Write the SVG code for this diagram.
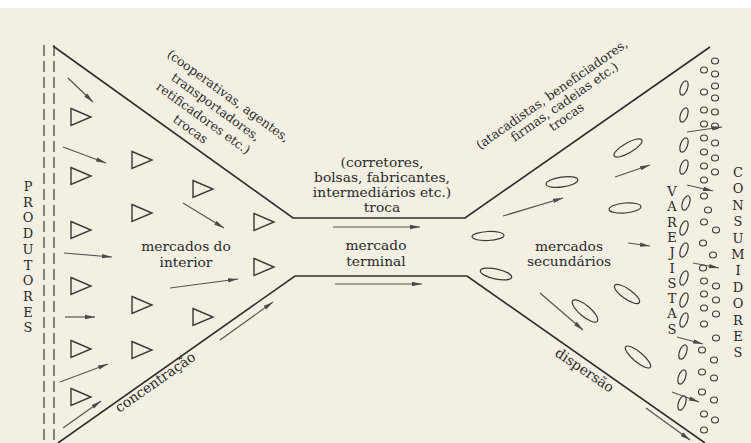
<svg xmlns="http://www.w3.org/2000/svg" width="751" height="443" viewBox="0 0 751 443">
<defs>
<marker id="ah" viewBox="0 0 10 6" refX="10" refY="3" markerWidth="10" markerHeight="6" markerUnits="userSpaceOnUse" orient="auto">
<path d="M0,0.8 L10,3 L0,5.2 Z" fill="#4a4a4a"/>
</marker>
<style>
.fl{fill:none;stroke:#2e2e2e;stroke-width:1.6}
.ds{fill:none;stroke:#3a3a3a;stroke-width:1.2;stroke-dasharray:11 5}
.tri{fill:none;stroke:#3a3a3a;stroke-width:1.4;stroke-linejoin:miter}
.arr{fill:none;stroke:#555;stroke-width:1.2;marker-end:url(#ah)}
.el{fill:none;stroke:#3a3a3a;stroke-width:1.2}
.zr{fill:none;stroke:#3a3a3a;stroke-width:1.2}
.cs{fill:none;stroke:#3a3a3a;stroke-width:1.1}
.t{font-family:"DejaVu Serif","Liberation Serif",serif;font-size:13.8px;fill:#2a2a2a;text-anchor:middle}
.r{font-family:"DejaVu Serif","Liberation Serif",serif;font-size:12.5px;fill:#2a2a2a;text-anchor:middle}
.cap{font-family:"DejaVu Serif","Liberation Serif",serif;font-size:13px;fill:#2a2a2a;text-anchor:middle}
</style>
</defs>
<rect x="0" y="0" width="751" height="443" fill="#f4efe3"/>
<rect x="0" y="0" width="751" height="8" fill="#ffffff"/>

<g id="funnel">
<path class="fl" d="M53,46 L293,218 L465,218 L710,47"/>
<path class="fl" d="M58,443 L295,276 L467,276 L705,443"/>
<line class="ds" x1="44" y1="45" x2="44" y2="443"/>
<line class="ds" x1="54" y1="45" x2="54" y2="443"/>
</g>

<g id="produtores">
<text class="cap" x="28" y="191">P</text>
<text class="cap" x="28" y="206.7">R</text>
<text class="cap" x="28" y="222.4">O</text>
<text class="cap" x="28" y="238.1">D</text>
<text class="cap" x="28" y="253.8">U</text>
<text class="cap" x="28" y="269.5">T</text>
<text class="cap" x="28" y="285.2">O</text>
<text class="cap" x="28" y="300.9">R</text>
<text class="cap" x="28" y="316.6">E</text>
<text class="cap" x="28" y="332.3">S</text>
</g>

<g id="mercados-interior">
<polygon class="tri" points="71,108.5 91,117 71,125.5"/>
<polygon class="tri" points="71,167.5 91,176 71,184.5"/>
<polygon class="tri" points="71,221.5 91,230 71,238.5"/>
<polygon class="tri" points="71,277.5 91,286 71,294.5"/>
<polygon class="tri" points="71,340.5 91,349 71,357.5"/>
<polygon class="tri" points="71,388.5 91,397 71,405.5"/>
<polygon class="tri" points="132,151.5 152,160 132,168.5"/>
<polygon class="tri" points="132,204.5 152,213 132,221.5"/>
<polygon class="tri" points="132,296.5 152,305 132,313.5"/>
<polygon class="tri" points="132,341.5 152,350 132,358.5"/>
<polygon class="tri" points="193,180.5 213,189 193,197.5"/>
<polygon class="tri" points="193,308.5 213,317 193,325.5"/>
<polygon class="tri" points="254,213.5 274,222 254,230.5"/>
<polygon class="tri" points="254,258.5 274,267 254,275.5"/>
<text class="t" x="186" y="251">mercados do</text>
<text class="t" x="186" y="267">interior</text>
</g>

<g id="intermediarios-interior">
<g transform="rotate(36)">
<text class="r" x="241" y="-52.4">(cooperativas, agentes,</text>
<text class="r" x="237.5" y="-36">transportadores,</text>
<text class="r" x="234" y="-19.6">retificadores etc.)</text>
<text class="r" x="230" y="-3.3">trocas</text>
</g>
</g>

<g id="mercado-terminal">
<text class="t" x="382" y="167">(corretores,</text>
<text class="t" x="382" y="182">bolsas, fabricantes,</text>
<text class="t" x="382" y="197">intermediários etc.)</text>
<text class="t" x="382" y="212">troca</text>
<text class="t" x="376" y="250">mercado</text>
<text class="t" x="376" y="266">terminal</text>
</g>

<g id="intermediarios-secundarios">
<g transform="rotate(-35)">
<text class="r" x="398" y="398">(atacadistas, beneficiadores,</text>
<text class="r" x="404" y="411.5">firmas, cadeias etc.)</text>
<text class="r" x="397" y="425">trocas</text>
</g>
</g>

<g id="mercados-secundarios">
<ellipse class="el" cx="488" cy="236" rx="16" ry="4.5" transform="rotate(-3 488 236)"/>
<ellipse class="el" cx="496" cy="274" rx="16" ry="5" transform="rotate(12 496 274)"/>
<ellipse class="el" cx="562" cy="182" rx="16" ry="5" transform="rotate(-8 562 182)"/>
<ellipse class="el" cx="585" cy="311" rx="16" ry="5.5" transform="rotate(40 585 311)"/>
<ellipse class="el" cx="628" cy="148" rx="16" ry="5" transform="rotate(-30 628 148)"/>
<ellipse class="el" cx="625" cy="208" rx="16" ry="5" transform="rotate(-5 625 208)"/>
<ellipse class="el" cx="627" cy="294" rx="15" ry="5" transform="rotate(35 627 294)"/>
<ellipse class="el" cx="638" cy="357" rx="16" ry="5" transform="rotate(40 638 357)"/>
<text class="t" x="569" y="251">mercados</text>
<text class="t" x="569" y="266">secundários</text>
</g>

<g id="varejistas">
<text class="cap" x="672" y="196">V</text>
<text class="cap" x="672" y="211.3">A</text>
<text class="cap" x="672" y="226.6">R</text>
<text class="cap" x="672" y="241.9">E</text>
<text class="cap" x="672" y="257.2">J</text>
<text class="cap" x="672" y="272.5">I</text>
<text class="cap" x="672" y="287.8">S</text>
<text class="cap" x="672" y="303.1">T</text>
<text class="cap" x="672" y="318.4">A</text>
<text class="cap" x="672" y="333.7">S</text>
<ellipse class="zr" cx="684" cy="88" rx="3.5" ry="7.5" transform="rotate(20 684 88)"/>
<ellipse class="zr" cx="684" cy="115" rx="3.5" ry="7.5" transform="rotate(20 684 115)"/>
<ellipse class="zr" cx="684" cy="145" rx="3.5" ry="7.5" transform="rotate(20 684 145)"/>
<ellipse class="zr" cx="684" cy="167" rx="3.5" ry="7.5" transform="rotate(20 684 167)"/>
<ellipse class="zr" cx="686" cy="203" rx="3.5" ry="7.5" transform="rotate(20 686 203)"/>
<ellipse class="zr" cx="684" cy="228" rx="3.5" ry="7.5" transform="rotate(20 684 228)"/>
<ellipse class="zr" cx="684" cy="250" rx="3.5" ry="7.5" transform="rotate(20 684 250)"/>
<ellipse class="zr" cx="684" cy="278" rx="3.5" ry="7.5" transform="rotate(20 684 278)"/>
<ellipse class="zr" cx="684" cy="300" rx="3.5" ry="7.5" transform="rotate(20 684 300)"/>
<ellipse class="zr" cx="684" cy="320" rx="3.5" ry="7.5" transform="rotate(20 684 320)"/>
<ellipse class="zr" cx="683" cy="352" rx="3.5" ry="7.5" transform="rotate(20 683 352)"/>
<ellipse class="zr" cx="682" cy="377" rx="3.5" ry="7.5" transform="rotate(20 682 377)"/>
<ellipse class="zr" cx="682" cy="403" rx="3.5" ry="7.5" transform="rotate(20 682 403)"/>
</g>

<g id="consumidores">
<text class="cap" x="738" y="177">C</text>
<text class="cap" x="738" y="193.4">O</text>
<text class="cap" x="738" y="209.8">N</text>
<text class="cap" x="738" y="226.2">S</text>
<text class="cap" x="738" y="242.6">U</text>
<text class="cap" x="738" y="259">M</text>
<text class="cap" x="738" y="275.4">I</text>
<text class="cap" x="738" y="291.8">D</text>
<text class="cap" x="738" y="308.2">O</text>
<text class="cap" x="738" y="324.6">R</text>
<text class="cap" x="738" y="341">E</text>
<text class="cap" x="738" y="357.4">S</text>
<g class="cs">
<ellipse cx="715" cy="61" rx="3.5" ry="3"/>
<ellipse cx="704" cy="70" rx="3.5" ry="3"/><ellipse cx="715" cy="74" rx="3.5" ry="3"/>
<ellipse cx="715" cy="86" rx="3.5" ry="3"/>
<ellipse cx="704" cy="92" rx="3.5" ry="3"/><ellipse cx="715" cy="98" rx="3.5" ry="3"/>
<ellipse cx="704" cy="110" rx="3.5" ry="3"/><ellipse cx="715" cy="112" rx="3.5" ry="3"/>
<ellipse cx="704" cy="124" rx="3.5" ry="3"/><ellipse cx="715" cy="126" rx="3.5" ry="3"/>
<ellipse cx="704" cy="138" rx="3.5" ry="3"/><ellipse cx="715" cy="143" rx="3.5" ry="3"/>
<ellipse cx="704" cy="152" rx="3.5" ry="3"/><ellipse cx="715" cy="158" rx="3.5" ry="3"/>
<ellipse cx="704" cy="166" rx="3.5" ry="3"/><ellipse cx="715" cy="172" rx="3.5" ry="3"/>
<ellipse cx="704" cy="180" rx="3.5" ry="3"/>
<ellipse cx="704" cy="196" rx="3.5" ry="3"/>
<ellipse cx="708" cy="210" rx="3.5" ry="3"/>
<ellipse cx="704" cy="222" rx="3.5" ry="3"/>
<ellipse cx="716" cy="230" rx="3.5" ry="3"/>
<ellipse cx="703" cy="243" rx="3.5" ry="3"/>
<ellipse cx="713" cy="255" rx="3.5" ry="3"/>
<ellipse cx="703" cy="268" rx="3.5" ry="3"/>
<ellipse cx="704" cy="281" rx="3.5" ry="3"/><ellipse cx="716" cy="286" rx="3.5" ry="3"/>
<ellipse cx="704" cy="294" rx="3.5" ry="3"/><ellipse cx="716" cy="300" rx="3.5" ry="3"/>
<ellipse cx="704" cy="308" rx="3.5" ry="3"/><ellipse cx="716" cy="314" rx="3.5" ry="3"/>
<ellipse cx="704" cy="324" rx="3.5" ry="3"/>
<ellipse cx="716" cy="338" rx="3.5" ry="3"/>
<ellipse cx="702" cy="350" rx="3.5" ry="3"/>
<ellipse cx="714" cy="360" rx="3.5" ry="3"/>
<ellipse cx="702" cy="372" rx="3.5" ry="3"/>
<ellipse cx="714" cy="378" rx="3.5" ry="3"/>
<ellipse cx="702" cy="392" rx="3.5" ry="3"/>
<ellipse cx="714" cy="400" rx="3.5" ry="3"/>
<ellipse cx="704" cy="414" rx="3.5" ry="3"/>
<ellipse cx="715" cy="420" rx="3.5" ry="3"/>
<ellipse cx="704" cy="430" rx="3.5" ry="3"/>
</g>
</g>

<g id="flow-labels">
<text class="t" transform="translate(158,386) rotate(-35)">concentração</text>
<text class="t" transform="translate(582,374) rotate(34)">dispersão</text>
</g>

<g id="connectors">
<line class="arr" x1="68" y1="78" x2="93" y2="102"/>
<line class="arr" x1="63" y1="147" x2="106" y2="163"/>
<line class="arr" x1="183" y1="203" x2="224" y2="228"/>
<line class="arr" x1="64" y1="253" x2="112" y2="257"/>
<line class="arr" x1="65" y1="317" x2="95" y2="317"/>
<line class="arr" x1="60" y1="382" x2="108" y2="364"/>
<line class="arr" x1="63" y1="428" x2="101" y2="401"/>
<line class="arr" x1="170" y1="288" x2="238" y2="279"/>
<line class="arr" x1="220" y1="340" x2="273" y2="302"/>
<line class="arr" x1="333" y1="227" x2="420" y2="227"/>
<line class="arr" x1="335" y1="284" x2="422" y2="284"/>
<line class="arr" x1="503" y1="216" x2="563" y2="198"/>
<line class="arr" x1="615" y1="177" x2="650" y2="165"/>
<line class="arr" x1="540" y1="293" x2="583" y2="330"/>
<line class="arr" x1="687" y1="132" x2="722" y2="127"/>
<line class="arr" x1="687" y1="185" x2="713" y2="191"/>
<line class="arr" x1="628" y1="243" x2="650" y2="246"/>
<line class="arr" x1="693" y1="263" x2="719" y2="268"/>
<line class="arr" x1="677" y1="337" x2="703" y2="344"/>
<line class="arr" x1="672" y1="392" x2="699" y2="402"/>
<line class="arr" x1="646" y1="408" x2="690" y2="440"/>
</g>
</svg>
